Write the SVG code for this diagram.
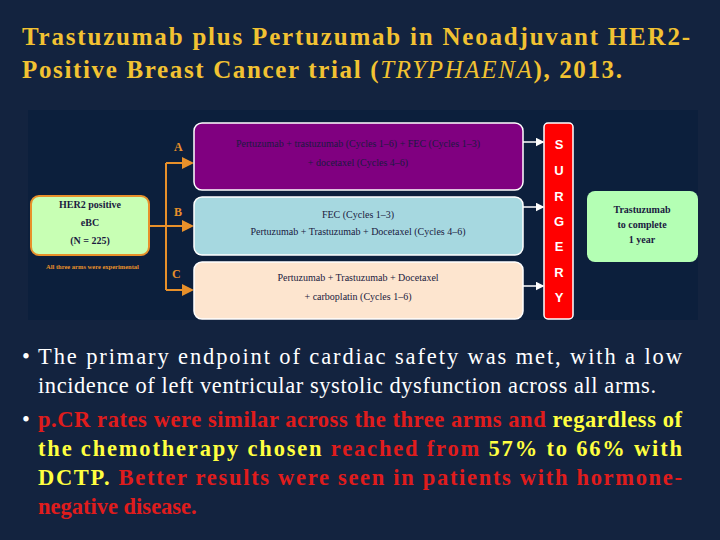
<svg xmlns="http://www.w3.org/2000/svg" width="720" height="540" viewBox="0 0 720 540">
<defs>
<style>
.t{font-family:'Liberation Serif','Times New Roman','DejaVu Serif',serif;font-weight:bold;font-size:25px;fill:#f2c232}
.b{font-family:'Liberation Serif','Times New Roman','DejaVu Serif',serif;font-size:22.5px}
.bb{font-weight:bold}
.w{fill:#ffffff}.r{fill:#e01c1c}.y{fill:#ffff40}
.s{font-family:'Liberation Serif','Times New Roman',serif;font-size:10px;fill:#1a1a40}
.lab{font-family:'Liberation Serif','Times New Roman',serif;font-weight:bold;font-size:12px;fill:#e8902a}
.sg{font-family:'Liberation Sans',Arial,sans-serif;font-weight:bold;font-size:13px;fill:#fff;text-anchor:middle}
.ln{stroke:#e8902a;stroke-width:2;fill:none}
.wl{stroke:#fff;stroke-width:1.5;fill:none}
</style>
<marker id="ao" markerWidth="6" markerHeight="6" refX="5" refY="3" orient="auto"><path d="M0,0L6,3L0,6z" fill="#e8902a"/></marker>
<marker id="aw" markerWidth="6" markerHeight="6" refX="5" refY="3" orient="auto"><path d="M0,0L6,3L0,6z" fill="#fff"/></marker>
</defs>
<rect width="720" height="540" fill="#13233f"/>
<text class="t" x="22" y="45" textLength="668" lengthAdjust="spacing">Trastuzumab plus Pertuzumab in Neoadjuvant HER2-</text>
<text class="t" x="22" y="78" textLength="600" lengthAdjust="spacing">Positive Breast Cancer trial (<tspan font-style="italic" font-weight="normal">TRYPHAENA</tspan>), 2013.</text>
<rect x="28" y="110" width="670" height="210" fill="#0c1f3c"/>
<g id="connectors">
<path class="ln" d="M166,163V290"/>
<path class="ln" d="M149,226H192" marker-end="url(#ao)"/>
<path class="ln" d="M166,163H192" marker-end="url(#ao)"/>
<path class="ln" d="M166,290H192" marker-end="url(#ao)"/>
<path class="wl" d="M523,142H543" marker-end="url(#aw)"/>
<path class="wl" d="M523,207H543" marker-end="url(#aw)"/>
<path class="wl" d="M523,286H543" marker-end="url(#aw)"/>
</g>
<g id="her2">
<rect x="31" y="196" width="118" height="59" rx="8" fill="#c8ffb4" stroke="#e8902a" stroke-width="2"/>
<text class="s" x="90" y="208" text-anchor="middle" font-weight="bold">HER2 positive</text>
<text class="s" x="90" y="226" text-anchor="middle" font-weight="bold">eBC</text>
<text class="s" x="90" y="244" text-anchor="middle" font-weight="bold" font-size="11">(N = 225)</text>
<text x="46" y="269" font-family="'Liberation Serif',serif" font-size="6.5" font-weight="bold" fill="#e8902a">All three arms were experimental</text>
</g>
<g id="labels">
<text class="lab" x="174" y="151">A</text>
<text class="lab" x="174" y="216">B</text>
<text class="lab" x="172" y="278">C</text>
</g>
<g id="armA">
<rect x="194" y="123" width="329" height="67" rx="8" fill="#800080" stroke="#fff" stroke-width="1.5"/>
<text class="s" x="358" y="147" text-anchor="middle">Pertuzumab + trastuzumab (Cycles 1–6) + FEC (Cycles 1–3)</text>
<text class="s" x="358" y="166" text-anchor="middle">+ docetaxel (Cycles 4–6)</text>
</g>
<g id="armB">
<rect x="194" y="197" width="329" height="58" rx="8" fill="#a6d8e0" stroke="#fff" stroke-width="1.5"/>
<text class="s" x="358" y="218" text-anchor="middle">FEC (Cycles 1–3)</text>
<text class="s" x="358" y="235" text-anchor="middle">Pertuzumab + Trastuzumab + Docetaxel (Cycles 4–6)</text>
</g>
<g id="armC">
<rect x="194" y="262" width="329" height="57" rx="8" fill="#fde5cf" stroke="#fff" stroke-width="1.5"/>
<text class="s" x="358" y="281" text-anchor="middle" font-size="11">Pertuzumab + Trastuzumab + Docetaxel</text>
<text class="s" x="358" y="300" text-anchor="middle" font-size="11">+ carboplatin (Cycles 1–6)</text>
</g>
<g id="surgery">
<rect x="544" y="123" width="29" height="196" rx="4" fill="#ff0000" stroke="#fff" stroke-width="1.5"/>
<text class="sg" x="559" y="149">S</text>
<text class="sg" x="559" y="175">U</text>
<text class="sg" x="559" y="201">R</text>
<text class="sg" x="559" y="226">G</text>
<text class="sg" x="559" y="251">E</text>
<text class="sg" x="559" y="277">R</text>
<text class="sg" x="559" y="302">Y</text>
</g>
<g id="trast">
<rect x="587" y="191" width="111" height="71" rx="8" fill="#b4ffb4"/>
<text class="s" x="642" y="213" text-anchor="middle" font-size="8" font-weight="bold">Trastuzumab</text>
<text class="s" x="642" y="228" text-anchor="middle" font-size="8" font-weight="bold">to complete</text>
<text class="s" x="642" y="243" text-anchor="middle" font-size="8" font-weight="bold">1 year</text>
</g>
<g id="bullets" class="b">
<text class="w" x="22" y="364">•</text>
<text class="w" x="38" y="364" textLength="644" lengthAdjust="spacing">The primary endpoint of cardiac safety was met, with a low</text>
<text class="w" x="38" y="393" textLength="618" lengthAdjust="spacing">incidence of left ventricular systolic dysfunction across all arms.</text>
<text class="w" x="22" y="427">•</text>
<text class="bb" x="38" y="427" textLength="644" lengthAdjust="spacing"><tspan class="r">p.CR rates were similar across the three arms and </tspan><tspan class="y">regardless of</tspan></text>
<text class="bb" x="38" y="456" textLength="644" lengthAdjust="spacing"><tspan class="y">the chemotherapy chosen </tspan><tspan class="r">reached from </tspan><tspan class="y">57% to 66% with</tspan></text>
<text class="bb" x="38" y="485" textLength="644" lengthAdjust="spacing"><tspan class="y">DCTP. </tspan><tspan class="r">Better results were seen in patients with hormone-</tspan></text>
<text class="bb r" x="38" y="514">negative disease.</text>
</g>
</svg>
